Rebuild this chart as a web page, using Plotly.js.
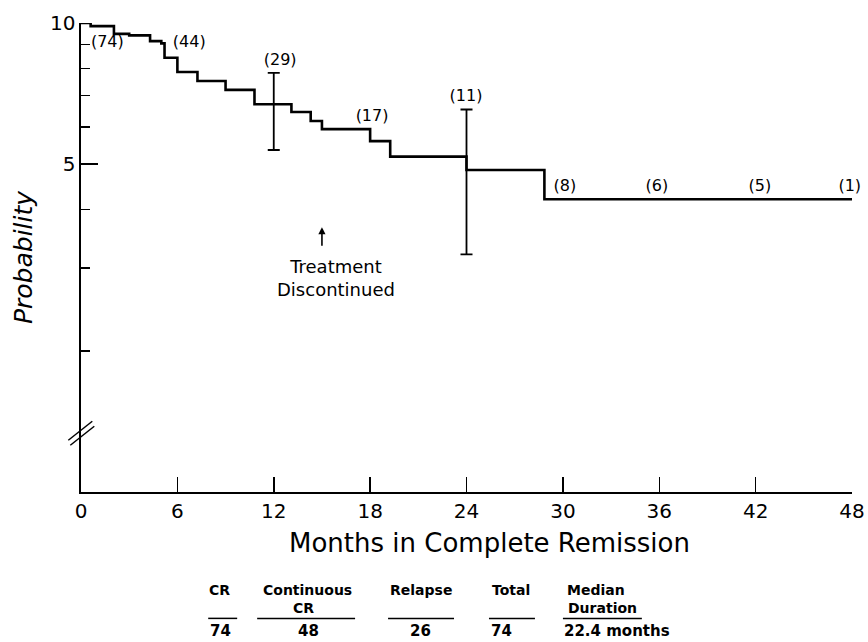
<!DOCTYPE html>
<html><head><meta charset="utf-8">
<script src="https://cdn.plot.ly/plotly-3.0.1.min.js"></script>
<style>html,body{margin:0;padding:0;background:#fff}#chart{width:868px;height:642px}</style>
</head><body><div id="chart"></div>
<script>
// Kaplan-Meier style step curve (probability on log scale, labelled 10 and 5)
const months = [0, 0.6, 2.05, 3.0, 4.3, 5.0, 5.2, 6.0, 7.25, 9.0, 10.8, 13.1, 14.3, 15.0, 18.0, 19.25, 24.0, 28.85, 48];
const probability = [10, 9.85, 9.48, 9.41, 9.15, 9.05, 8.43, 7.86, 7.52, 7.2, 6.71, 6.46, 6.18, 5.94, 5.60, 5.19, 4.86, 4.21, 4.21];

// confidence bars
const ciMonths = [12, 24];
const ciCenter = [6.71, 4.86];
const ciUpper = [7.83, 6.54];
const ciLower = [5.36, 3.21];

// numbers at risk
const riskMonths = [1.64, 6.74, 12.4, 18.12, 23.97, 30.13, 35.85, 42.26, 47.86];
const riskLevel = [9.07, 9.07, 8.30, 6.30, 6.95, 4.47, 4.47, 4.47, 4.47];
const riskLabels = ['(74)', '(44)', '(29)', '(17)', '(11)', '(8)', '(6)', '(5)', '(1)'];

// axes
const xTicks = [0, 6, 12, 18, 24, 30, 36, 42, 48];
const yMajor = [5, 10];
const yMajorText = ['5', '10'];
const yMinor = [2, 3, 4, 6, 7, 8, 9];

// summary table
const headerLine1 = ['CR', 'Continuous', 'Relapse', 'Total', 'Median'];
const headerLine2 = ['', 'CR', '', '', 'Duration'];
const tableValues = ['74', '48', '26', '74', '22.4 months'];

const FONT = 'DejaVu Sans, sans-serif';
// plot-area pixel helpers (layout only)
const L = 80.7, R = 852.3, T = 23, B = 491.7;
const px = v => (v - L) / (R - L);
const py = v => (B - v) / (B - T);

const traces = [
  {
    x: months, y: probability, type: 'scatter', mode: 'lines',
    line: {shape: 'hv', color: '#000', width: 2.6}, hoverinfo: 'skip'
  },
  {
    x: ciMonths, y: ciCenter, type: 'scatter', mode: 'markers',
    marker: {size: 1, color: 'rgba(0,0,0,0)'},
    error_y: {
      type: 'data', symmetric: false,
      array: ciUpper.map((u, i) => u - ciCenter[i]),
      arrayminus: ciLower.map((l, i) => ciCenter[i] - l),
      color: '#000', thickness: 1.8, width: 6
    },
    hoverinfo: 'skip'
  },
  {
    x: riskMonths, y: riskLevel, text: riskLabels, type: 'scatter', mode: 'text',
    textposition: 'middle center', textfont: {family: FONT, size: 16, color: '#000'},
    cliponaxis: false, hoverinfo: 'skip'
  }
];

const header1X = [219, 307, 421, 511, 596];
const header2X = [219, 303, 421, 511, 603];
const valueX = [220, 308, 420, 502, 617];
const underlines = [[208, 237], [257, 355], [388, 454], [489, 535], [563, 642]];

const annotations = [
  {xref: 'x', yref: 'paper', x: 15, y: py(227), ax: 0, ay: 20, text: '', showarrow: true,
   arrowhead: 2, arrowsize: 0.9, arrowwidth: 1.6, arrowcolor: '#000'},
  {xref: 'x', yref: 'paper', x: 15.9, y: py(278), text: 'Treatment<br>Discontinued', showarrow: false,
   align: 'center', xanchor: 'center', yanchor: 'middle', font: {family: FONT, size: 18, color: '#000'}},
  {xref: 'paper', yref: 'paper', x: px(490), y: py(543), text: 'Months in Complete Remission', showarrow: false,
   xanchor: 'center', yanchor: 'middle', font: {family: FONT, size: 26, color: '#000'}}
];
headerLine1.forEach((h, i) => {
  annotations.push({xref: 'paper', yref: 'paper', x: px(header1X[i]), y: py(599), text: '<b>' + h + '</b>',
    showarrow: false, xanchor: 'center', yanchor: 'bottom', borderpad: 0,
    font: {family: FONT, size: 14, color: '#000'}});
});
headerLine2.forEach((h, i) => {
  if (!h) return;
  annotations.push({xref: 'paper', yref: 'paper', x: px(header2X[i]), y: py(599), text: '<b>' + h + '</b>',
    showarrow: false, xanchor: 'center', yanchor: 'top', borderpad: 0,
    font: {family: FONT, size: 14, color: '#000'}});
});
tableValues.forEach((v, i) => {
  annotations.push({xref: 'paper', yref: 'paper', x: px(valueX[i]), y: py(641.5), text: '<b>' + v + '</b>',
    showarrow: false, xanchor: 'center', yanchor: 'bottom',
    font: {family: FONT, size: 15, color: '#000'}});
});

const shapes = underlines.map(u => ({
  type: 'line', xref: 'paper', yref: 'paper', x0: px(u[0]), x1: px(u[1]), y0: py(618), y1: py(618),
  line: {color: '#000', width: 1.5}
}));
// axis break marks
shapes.push({type: 'line', xref: 'paper', yref: 'paper', x0: px(68), x1: px(92), y0: py(440), y1: py(421), line: {color: '#000', width: 1.5}});
shapes.push({type: 'line', xref: 'paper', yref: 'paper', x0: px(70), x1: px(94), y0: py(445), y1: py(426), line: {color: '#000', width: 1.5}});

const layout = {
  width: 868, height: 642,
  margin: {l: L, r: 868 - R, t: T, b: 642 - B},
  paper_bgcolor: '#fff', plot_bgcolor: '#fff',
  showlegend: false,
  font: {family: FONT, color: '#000'},
  xaxis: {
    range: [0, 48], tickmode: 'array', tickvals: xTicks, ticktext: xTicks.map(String),
    ticks: 'inside', ticklen: 15, tickwidth: 1.5, tickcolor: '#000',
    showline: true, linecolor: '#000', linewidth: 2, showgrid: false, zeroline: false,
    tickfont: {family: FONT, size: 20, color: '#000'}
  },
  yaxis: {
    type: 'log', range: [0, 1],
    tickmode: 'array', tickvals: yMajor, ticktext: yMajorText,
    ticks: 'inside', ticklen: 17, tickwidth: 1.5, tickcolor: '#000',
    minor: {tickmode: 'array', tickvals: yMinor, ticks: 'inside', ticklen: 9, tickwidth: 1.5, tickcolor: '#000', showgrid: false},
    showline: true, linecolor: '#000', linewidth: 1.6, showgrid: false, zeroline: false,
    tickfont: {family: FONT, size: 20, color: '#000'},
    title: {text: '<i>Probability</i>', font: {family: FONT, size: 25, color: '#000'}, standoff: 10}
  },
  annotations: annotations,
  shapes: shapes
};

Plotly.newPlot('chart', traces, layout, {displayModeBar: false, staticPlot: true});
</script>
</body></html>
